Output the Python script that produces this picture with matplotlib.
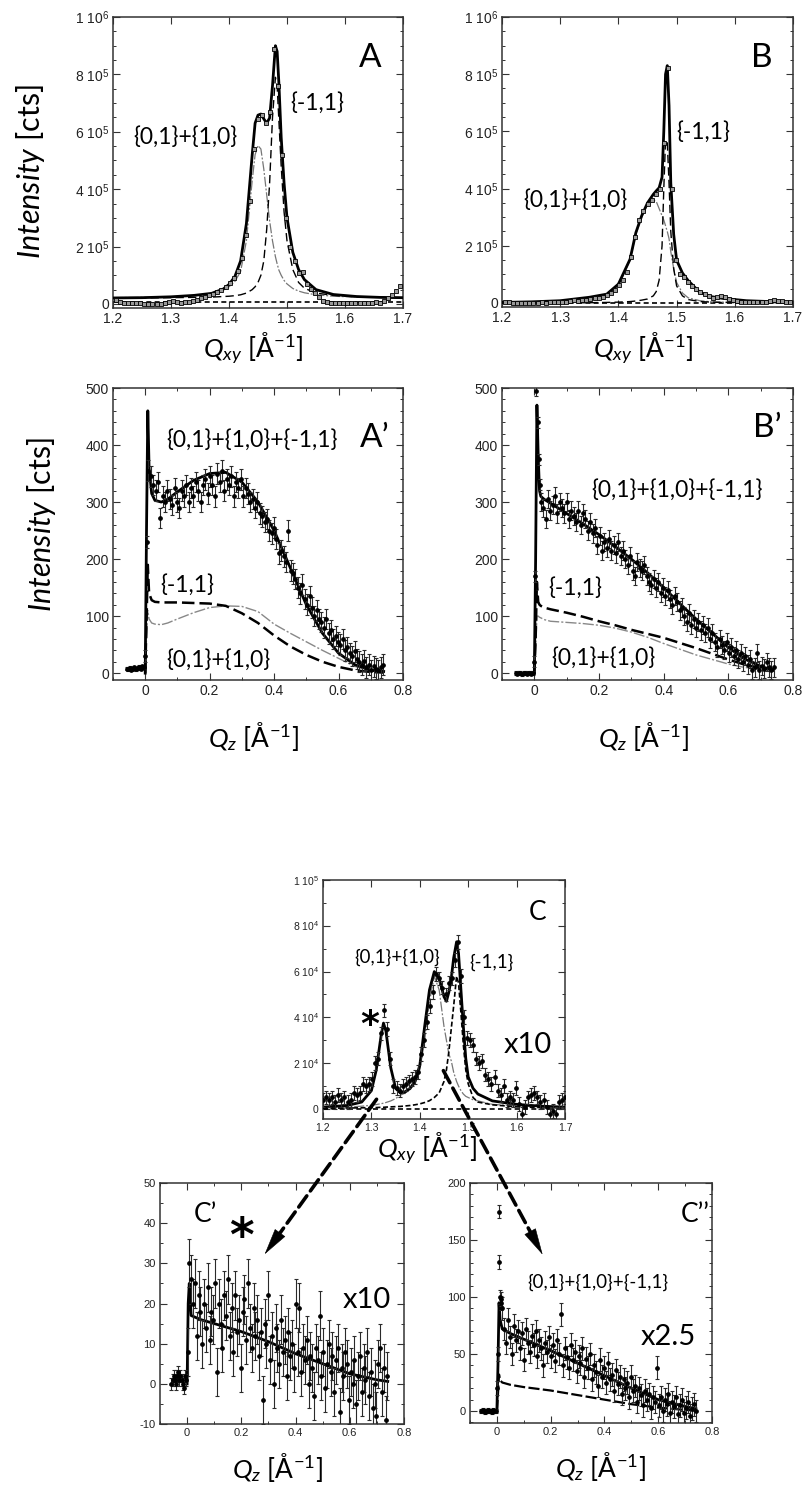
import numpy as np
import matplotlib
matplotlib.use('Agg')
import matplotlib.pyplot as plt
from matplotlib.ticker import MultipleLocator, FuncFormatter
from matplotlib.patches import FancyArrowPatch

W, H = 807, 1490
plt.rcParams['font.family'] = ['Liberation Sans', 'DejaVu Sans']
plt.rcParams['mathtext.fontset'] = 'custom'
plt.rcParams['mathtext.rm'] = 'Liberation Sans'
plt.rcParams['mathtext.sf'] = 'Lato'
plt.rcParams['mathtext.it'] = 'Lato:italic'
plt.rcParams['mathtext.bf'] = 'Lato:bold'
LBL = 'Lato'

# ---------------- DATA ----------------
# Panel A / B : in-plane scans (Qxy, counts in thousands)
qxy_scan = np.linspace(1.205, 1.695, 71)
A_data_k = [14, 6, 3, 2, 2, 3, 2, 1, 0, -1, 0, 1, 5, 8, 9, 6, 4, 6, 8, 12, 15, 20, 24, 30, 36,
            42, 48, 58, 72, 90, 115, 160, 240, 360, 540, 645, 660, 630, 670, 890, 760, 520, 300, 200,
            150, 108, 110, 70, 52, 40, 25, 10, 6, 4, 3, 5, 2, 3, 4, 2, 5, 3, 2, 4, 8, 3, 12, 22,
            32, 45, 62]
B_data_k = [3, 2, 1, 1, 0, 1, -1, 0, 1, 2, 1, 3, 2, 4, 3, 5, 6, 10, 8, 9, 12, 15, 17, 18, 22,
            28, 35, 45, 62, 80, 110, 160, 230, 290, 320, 345, 360, 380, 400, 560, 820, 400, 150, 100,
            90, 72, 60, 48, 38, 30, 25, 18, 20, 24, 22, 15, 10, 6, 5, 4, 3, 5, 2, 4, 3, 6, 12, 8,
            7, 5, 4]

A_fit_x = [1.20, 1.25, 1.30, 1.34, 1.37, 1.39, 1.40, 1.41, 1.42, 1.43, 1.44, 1.445, 1.45, 1.455,
           1.46, 1.465, 1.47, 1.475, 1.48, 1.483, 1.486, 1.49, 1.495, 1.50, 1.51, 1.52, 1.53,
           1.55, 1.58, 1.62, 1.66, 1.70]
A_total_k = [21, 22, 25, 30, 37, 52, 68, 95, 150, 280, 520, 630, 658, 662, 645, 630, 648, 760,
             900, 880, 770, 580, 420, 300, 180, 120, 85, 50, 33, 26, 23, 22]
A_c01_k = [22, 23, 25, 29, 36, 48, 60, 78, 113, 220, 430, 520, 552, 540, 470, 380, 290, 220,
           165, 140, 118, 100, 82, 70, 54, 45, 39, 32, 27, 24, 23, 22]
A_c11_k = [21, 21, 22, 23, 24, 26, 27, 29, 32, 38, 50, 60, 75, 100, 150, 260, 420, 650, 790,
           760, 640, 480, 320, 220, 120, 75, 55, 38, 30, 25, 23, 22]
A_bg_k = 8

B_fit_x = [1.20, 1.25, 1.30, 1.35, 1.38, 1.40, 1.42, 1.43, 1.44, 1.45, 1.46, 1.465, 1.47, 1.475,
           1.478, 1.481, 1.484, 1.487, 1.49, 1.495, 1.50, 1.51, 1.52, 1.54, 1.56, 1.58, 1.62,
           1.66, 1.70]
B_total_k = [2, 4, 8, 20, 31, 66, 153, 246, 305, 350, 380, 392, 403, 440, 600, 800, 830, 690,
             420, 240, 150, 105, 78, 37, 22, 16, 8, 5, 3]
B_c01_k = [1, 2, 4, 10, 25, 60, 150, 240, 300, 345, 360, 355, 330, 305, 290, 270, 250, 225,
           180, 120, 72, 35, 18, 8, 4, 3, 2, 1, 1]
B_c11_k = [0, 0, 0, 1, 2, 3, 5, 7, 10, 14, 25, 40, 80, 200, 400, 570, 560, 420, 250, 120, 60,
           25, 12, 5, 3, 2, 1, 1, 0]
B_bg_k = -1

# Panel A' / B' : out-of-plane (Qz) scans
Ap_pre_y = [8, 7, 9, 6, 8, 10, 7, 9, 11, 8, 12, 10]
Ap_near_x = [0.0, 0.004]
Ap_near_y = [30, 230]
Ap_main_range = (0.01, 0.738)
Ap_main_y = [355, 345, 330, 320, 335, 272, 310, 300, 320, 305, 295, 325, 300, 290, 320, 310, 330,
             300, 325, 310, 335, 320, 300, 330, 340, 315, 345, 330, 310, 350, 335, 355, 320, 340,
             330, 345, 310, 335, 325, 340, 310, 325, 315, 300, 305, 290, 300, 280, 275, 265, 270,
             250, 245, 255, 235, 210, 215, 205, 195, 250, 180, 175, 165, 150, 140, 155, 130, 120,
             135, 115, 100, 110, 95, 90, 80, 95, 70, 75, 60, 65, 55, 50, 60, 40, 45, 35, 30, 38,
             25, 20, 15, 22, 10, 15, 5, 12, 8, 5, 10, 15]
Ap_err = 18
Ap_fit_x = [0.0, 0.004, 0.008, 0.012, 0.02, 0.03, 0.05, 0.07, 0.1, 0.15, 0.2, 0.25, 0.3, 0.35,
            0.4, 0.45, 0.5, 0.55, 0.6, 0.65, 0.7, 0.74]
Ap_total = [0, 250, 460, 360, 315, 303, 300, 305, 318, 338, 350, 352, 335, 300, 250, 185, 120,
            70, 35, 15, 5, 3]
Ap_c11 = [0, 90, 190, 140, 128, 125, 124, 124, 124, 123, 122, 118, 105, 88, 66, 47, 32, 20, 11,
          5, 2, 1]
Ap_c01 = [0, 60, 110, 95, 88, 86, 85, 88, 95, 106, 115, 118, 117, 108, 86, 70, 55, 40, 26, 12,
          4, 2]

Bp_pre_y = [0, -1, 1, 0, -2, 0, 1, -1, 0, 1, -1, 0]
Bp_near_x = [0.0, 0.002, 0.004, 0.010, 0.013, 0.017]
Bp_near_y = [20, 170, 495, 440, 375, 330]
Bp_main_range = (0.02, 0.74)
Bp_main_y = [300, 290, 270, 305, 285, 295, 310, 280, 300, 290, 280, 300, 270, 285, 275, 265, 285,
             260, 280, 270, 250, 265, 245, 255, 225, 240, 215, 230, 220, 235, 215, 225, 210, 230,
             205, 215, 200, 190, 205, 180, 170, 195, 185, 180, 190, 170, 160, 155, 165, 150, 160,
             140, 150, 135, 145, 130, 120, 135, 125, 110, 115, 100, 90, 105, 85, 95, 80, 90, 75,
             85, 70, 80, 60, 70, 55, 45, 60, 50, 40, 55, 35, 45, 30, 40, 25, 35, 20, 30, 15, 25, 5,
             10, 35, 5, 12, 8, 20, 10, 5, 10]
Bp_err = 16
Bp_fit_x = [0.0, 0.004, 0.008, 0.012, 0.016, 0.02, 0.03, 0.05, 0.1, 0.15, 0.2, 0.25, 0.3, 0.35,
            0.4, 0.45, 0.5, 0.55, 0.6, 0.65, 0.7, 0.74]
Bp_total = [0, 200, 470, 380, 320, 310, 305, 298, 280, 262, 243, 222, 200, 176, 150, 122, 95,
            70, 45, 25, 12, 5]
Bp_c11 = [0, 60, 160, 125, 120, 118, 115, 112, 106, 99, 91, 84, 76, 69, 62, 53, 44, 34, 24, 15,
          9, 6]
Bp_c01 = [0, 40, 100, 100, 98, 97, 94, 91, 89, 87, 84, 79, 72, 63, 52, 42, 32, 24, 16, 10, 7, 5]

# Panel C : in-plane scan (x10), counts in thousands
C_scan = np.linspace(1.2, 1.7, 80)
C_data_k = [4, 5, 4, 5, 3, 6, 4, 5, 3, 4, 7, 6, 7, 11, 10, 11, 13, 20, 22, 33, 43, 35, 22, 10, 9,
            8, 10, 11, 12, 13, 14, 16, 24, 30, 38, 45, 51, 59, 57, 53, 50, 55, 57, 65, 73, 58, 40,
            31, 30, 28, 22, 20, 21, 15, 13, 11, 14, 8, 6, 10, 4, 5, 4, 9, 2, -2, 1, 5, 6, 7, 5, 3,
            4, 1, -2, -1, -2, 3, 4, 5]
C_err_k = 3.0
C_fit_x = [1.20, 1.25, 1.28, 1.30, 1.31, 1.32, 1.325, 1.33, 1.34, 1.35, 1.36, 1.37, 1.38, 1.39,
           1.40, 1.41, 1.42, 1.43, 1.44, 1.45, 1.455, 1.46, 1.465, 1.47, 1.476, 1.48, 1.485, 1.49,
           1.495, 1.50, 1.51, 1.52, 1.55, 1.60, 1.65, 1.70]
C_total_k = [0.8, 1.5, 3, 8, 17, 32, 37.5, 34, 18, 9, 7, 7.5, 9, 12, 19, 36, 52, 60, 57, 49, 47,
             51, 57, 66, 73, 68, 52, 36, 22, 14, 9, 6.5, 3.5, 2, 1.2, 0.8]
C_c01_k = [0.5, 0.8, 1.2, 1.6, 1.9, 2.3, 2.5, 2.8, 3.5, 4.5, 6, 7, 8.5, 11, 17, 30, 47, 58, 52,
           36, 30, 24, 21, 16, 12, 10, 8, 6.5, 5.5, 5, 4, 3.5, 2, 1.3, 0.9, 0.7]
C_c11_k = [0.3, 0.4, 0.5, 0.6, 0.6, 0.7, 0.7, 0.8, 0.9, 1, 1.1, 1.3, 1.5, 1.8, 2.2, 2.8, 3.6, 5,
           7, 12, 17, 25, 35, 45, 58, 55, 42, 28, 17, 11, 5, 3, 1.8, 0.9, 0.6, 0.5]

# Panel C' : Qz scan of the * peak (x10)
C1_pre_y = [0, 1, 2, 1, 0, 2, 3, 1, 2, 1, 0, -1, 2, 1]
C1_main_range = (0.002, 0.739)
C1_main_y = [8, 30, 26, 20, 25, 12, 22, 18, 10, 20, 14, 24, 11, 18, 16, 25, 3, 20, 15, 9, 22, 17,
             26, 12, 19, 8, 22, 13, 16, 4, 18, 21, 11, 25, 14, 9, 19, 12, 16, 7, 13, -4, 15, 10,
             22, 6, 12, 0, 14, 9, 5, 16, 8, 11, 2, 13, 7, 10, 4, 20, 8, 19, 3, 9, 6, 11, 0, 7, 4,
             -3, 9, 6, 17, 2, 8, -1, 5, 10, 3, 7, -2, 6, 9, -7, 4, 2, 8, 5, -4, 3, 0, 6, -5, 2, 7,
             -2, 4, 1, 8, -3, 3, -6, 0, -8, 5, 9, -2, 4, -9, 2]
C1_err = 6
C1_fit_x = [0.0, 0.004, 0.008, 0.015, 0.05, 0.1, 0.2, 0.3, 0.4, 0.5, 0.6, 0.7, 0.74]
C1_fit = [0, 20, 25, 17, 16, 15, 13, 10.5, 7.5, 5, 2.5, 1, 0.6]

# Panel C'' : Qz scan of the main peaks (x2.5)
C2_pre_y = [0, 1, 0, -1, 0, 1, 0, 0, -1, 1, 0, 0]
C2_near_x = [0.0, 0.003, 0.006, 0.008, 0.011, 0.014, 0.017]
C2_near_y = [20, 50, 131, 175, 100, 98, 95]
C2_main_range = (0.02, 0.74)
C2_main_y = [90, 72, 60, 80, 65, 50, 75, 62, 70, 55, 68, 45, 72, 60, 52, 66, 58, 70, 48, 62, 55,
             40, 60, 52, 65, 48, 58, 44, 62, 50, 85, 40, 55, 47, 38, 58, 45, 52, 35, 48, 42, 55,
             30, 46, 38, 50, 28, 40, 34, 22, 45, 30, 38, 25, 42, 28, 32, 18, 36, 24, 30, 15, 28,
             20, 25, 12, 30, 18, 22, 8, 20, 14, 5, 18, 10, 15, 3, 12, 8, 38, 5, 12, 0, 10, 6, 15,
             -2, 8, 4, 12, -3, 5, 10, -2, 3, 8, -4, 2, 6, 0]
C2_err = 10
C2_fit_x = [0.0, 0.004, 0.008, 0.012, 0.02, 0.05, 0.1, 0.2, 0.3, 0.4, 0.5, 0.6, 0.7, 0.74]
C2_total = [0, 40, 95, 80, 72, 68, 63, 53, 42, 31, 20, 10, 4, 2]
C2_comp = [0, 15, 32, 27, 25, 23, 21, 18, 14, 10, 6, 3, 1, 0.5]

PRE_RANGE = (-0.058, -0.004)

# ---------------- FIGURE ----------------
fig = plt.figure(figsize=(W / 100, H / 100), dpi=100)


def add_ax(x0, y0, x1, y1):
    return fig.add_axes([x0 / W, 1 - y1 / H, (x1 - x0) / W, (y1 - y0) / H])


def ftext(px, py, s, size, **kw):
    kw.setdefault('ha', 'center')
    kw.setdefault('va', 'center')
    kw.setdefault('family', LBL)
    return fig.text(px / W, 1 - py / H, s, fontsize=size, **kw)


def sci(v, pos):
    if abs(v) < 1e-9:
        return '0'
    e = int(np.floor(np.log10(abs(v)) + 1e-9))
    m = v / 10 ** e
    return f'{m:g} 10$^{{{e}}}$'


def style(ax, xmaj, xmin, ymaj, ymin, lsize, scif=False):
    for s in ax.spines.values():
        s.set_color('#333333')
        s.set_linewidth(1.1)
    ax.xaxis.set_major_locator(MultipleLocator(xmaj))
    ax.yaxis.set_major_locator(MultipleLocator(ymaj))
    if xmin:
        ax.xaxis.set_minor_locator(MultipleLocator(xmin))
    if ymin:
        ax.yaxis.set_minor_locator(MultipleLocator(ymin))
    ax.tick_params(which='both', direction='in', top=True, right=True, colors='#333333',
                   labelcolor='#222222', labelsize=lsize, pad=3)
    ax.tick_params(which='major', length=5, width=0.8)
    ax.tick_params(which='minor', length=2.5, width=0.7)
    if scif:
        ax.yaxis.set_major_formatter(FuncFormatter(sci))
    else:
        ax.xaxis.set_major_formatter(FuncFormatter(lambda v, p: f'{v:g}'))
        ax.yaxis.set_major_formatter(FuncFormatter(lambda v, p: f'{v:g}'))


TOT = dict(color='k', lw=2.0, zorder=4)
C11 = dict(color='k', lw=1.0, ls=(0, (6, 3)), zorder=3)
C01 = dict(color='#777777', lw=0.9, ls=(0, (8, 1.5, 1.5, 1.5)), zorder=3)
BG = dict(color='k', lw=1.2, ls=(0, (3, 2)), zorder=2)
EB = dict(fmt='o', ms=2.4, color='k', ecolor='#2a2a2a', elinewidth=0.8, capsize=1.6,
          capthick=0.8, zorder=5)

# ----- A -----
axA = add_ax(113, 17, 403, 308)
axA.plot(qxy_scan, np.array(A_data_k) * 1e3, 's', ms=2.6, mfc='#999999', mec='k', mew=0.6,
         zorder=5)
axA.plot(A_fit_x, np.array(A_c01_k) * 1e3, **C01)
axA.plot(A_fit_x, np.array(A_c11_k) * 1e3, **C11)
axA.plot(A_fit_x, np.array(A_total_k) * 1e3, **TOT)
axA.axhline(A_bg_k * 1e3, **BG)
axA.set_xlim(1.2, 1.7)
axA.set_ylim(-14000, 1e6)
style(axA, 0.1, None, 2e5, 5e4, 10, scif=True)

# ----- B -----
axB = add_ax(502, 17, 793, 307)
axB.plot(qxy_scan, np.array(B_data_k) * 1e3, 's', ms=2.6, mfc='#999999', mec='k', mew=0.6,
         zorder=5)
axB.plot(B_fit_x, np.array(B_c01_k) * 1e3, **C01)
axB.plot(B_fit_x, np.array(B_c11_k) * 1e3, **C11)
axB.plot(B_fit_x, np.array(B_total_k) * 1e3, **TOT)
axB.axhline(B_bg_k * 1e3, **BG)
axB.set_xlim(1.2, 1.7)
axB.set_ylim(-14000, 1e6)
style(axB, 0.1, None, 2e5, 5e4, 10, scif=True)

C11q = dict(color='k', lw=1.8, ls=(0, (5, 2)), zorder=3)
C01q = dict(color='#888888', lw=1.0, ls=(0, (8, 1.5, 1.5, 1.5)), zorder=3)


def qz_panel(ax, pre_y, near_x, near_y, rng, main_y, err, pre_err=3):
    pre_x = np.linspace(PRE_RANGE[0], PRE_RANGE[1], len(pre_y))
    ax.errorbar(pre_x, pre_y, yerr=pre_err, **EB)
    if near_x:
        ax.errorbar(near_x, near_y, yerr=err * 0.6, **EB)
    mx = np.linspace(rng[0], rng[1], len(main_y))
    ax.errorbar(mx, main_y, yerr=err, **EB)


# ----- A' -----
axAp = add_ax(113, 388, 403, 680)
qz_panel(axAp, Ap_pre_y, Ap_near_x, Ap_near_y, Ap_main_range, Ap_main_y, Ap_err)
axAp.plot(Ap_fit_x, Ap_c01, **C01q)
axAp.plot(Ap_fit_x, Ap_c11, **C11q)
axAp.plot(Ap_fit_x, Ap_total, **TOT)
axAp.set_xlim(-0.1, 0.8)
axAp.set_ylim(-12, 500)
style(axAp, 0.2, 0.1, 100, 20, 10)

# ----- B' -----
axBp = add_ax(502, 388, 793, 680)
qz_panel(axBp, Bp_pre_y, Bp_near_x, Bp_near_y, Bp_main_range, Bp_main_y, Bp_err)
axBp.plot(Bp_fit_x, Bp_c01, **C01q)
axBp.plot(Bp_fit_x, Bp_c11, **C11q)
axBp.plot(Bp_fit_x, Bp_total, **TOT)
axBp.set_xlim(-0.1, 0.8)
axBp.set_ylim(-12, 500)
style(axBp, 0.2, 0.1, 100, 20, 10)

# ----- C -----
axC = add_ax(323, 880, 565, 1119)
axC.errorbar(C_scan, np.array(C_data_k) * 1e3, yerr=C_err_k * 1e3, **EB)
axC.plot(C_fit_x, np.array(C_c01_k) * 1e3, **C01)
axC.plot(C_fit_x, np.array(C_c11_k) * 1e3, color='k', lw=1.2, ls=(0, (3, 1.5)), zorder=3)
axC.plot(C_fit_x, np.array(C_total_k) * 1e3, **TOT)
axC.axhline(0, **BG)
axC.set_xlim(1.2, 1.7)
axC.set_ylim(-4400, 1e5)
style(axC, 0.1, None, 2e4, 1e4, 7.5, scif=True)

# ----- C' -----
axC1 = add_ax(160, 1183, 404, 1424)
qz_panel(axC1, C1_pre_y, [], [], C1_main_range, C1_main_y, C1_err, pre_err=1.5)
axC1.plot(C1_fit_x, C1_fit, **TOT)
axC1.set_xlim(-0.1, 0.8)
axC1.set_ylim(-10, 50)
style(axC1, 0.2, 0.1, 10, 5, 8)

# ----- C'' -----
axC2 = add_ax(470, 1183, 712, 1423)
qz_panel(axC2, C2_pre_y, C2_near_x, C2_near_y, C2_main_range, C2_main_y, C2_err, pre_err=1.5)
axC2.plot(C2_fit_x, C2_comp, color='k', lw=1.6, ls=(0, (5, 1.5)), zorder=3)
axC2.plot(C2_fit_x, C2_total, **TOT)
axC2.set_xlim(-0.1, 0.8)
axC2.set_ylim(-10.5, 200)
style(axC2, 0.2, 0.1, 50, 10, 8)

# ---------------- TEXT ----------------
QXY = r'$Q_{xy}$ [Å$^{\mathsf{-1}}$]'
QZ = r'$Q_{z}$ [Å$^{\mathsf{-1}}$]'
INT = r'$Intensity$ [cts]'
XL = 19
ftext(253, 358, QXY, XL, va='baseline')
ftext(643, 358, QXY, XL, va='baseline')
ftext(253, 747, QZ, XL, va='baseline')
ftext(643, 747, QZ, XL, va='baseline')
ftext(427, 1158, QXY, XL, va='baseline')
ftext(277, 1478, QZ, XL, va='baseline')
ftext(600, 1477, QZ, XL, va='baseline')
ftext(31, 172, INT, 22, rotation=90)
ftext(42, 525, INT, 22, rotation=90)

AN = 16.5
ftext(370, 58, 'A', 24)
ftext(185, 137, '{0,1}+{1,0}', AN)
ftext(317, 103, '{-1,1}', AN)
ftext(762, 58, 'B', 24)
ftext(575, 200, '{0,1}+{1,0}', AN)
ftext(703, 132, '{-1,1}', AN)
ftext(375, 438, 'A’', 24)
ftext(252, 440, '{0,1}+{1,0}+{-1,1}', AN)
ftext(187, 585, '{-1,1}', AN)
ftext(218, 660, '{0,1}+{1,0}', AN)
ftext(767, 428, 'B’', 24)
ftext(677, 490, '{0,1}+{1,0}+{-1,1}', AN)
ftext(575, 588, '{-1,1}', AN)
ftext(603, 658, '{0,1}+{1,0}', AN)
ftext(538, 913, 'C', 19)
ftext(397, 957, '{0,1}+{1,0}', 13.5)
ftext(492, 962, '{-1,1}', 13.5)
ftext(370, 1025, '*', 26, family='DejaVu Sans', weight='bold')
ftext(528, 1045, 'x10', 21)
ftext(205, 1215, 'C’', 19)
ftext(241, 1238, '*', 34, family='DejaVu Sans', weight='bold')
ftext(367, 1300, 'x10', 21)
ftext(695, 1215, 'C’’', 19)
ftext(598, 1282, '{0,1}+{1,0}+{-1,1}', 13.5)
ftext(668, 1337, 'x2.5', 21)

# ---------------- ARROWS ----------------
inv = fig.transFigure.inverted()


def arrow(axs, ps, axe, pe):
    a = np.array(axs.transData.transform(ps))
    b = np.array(axe.transData.transform(pe))
    d = b - a
    L = np.hypot(*d)
    u = d / L
    head = 25.0
    c = b - u * head * 0.85
    fig.add_artist(FancyArrowPatch(inv.transform(a), inv.transform(c), transform=fig.transFigure,
                                   arrowstyle='-', lw=2.6, ls=(0, (3.8, 1.7)), color='k',
                                   zorder=10))
    fig.add_artist(FancyArrowPatch(inv.transform(b - u * head), inv.transform(b),
                                   transform=fig.transFigure,
                                   arrowstyle='-|>,head_length=1.5,head_width=0.36',
                                   mutation_scale=12, lw=0.4, color='k', zorder=10))


arrow(axC, (1.314, 5200), axC1, (0.28, 31.7))
arrow(axC, (1.446, 17800), axC2, (0.175, 135))

fig.savefig('out.png', dpi=100)
